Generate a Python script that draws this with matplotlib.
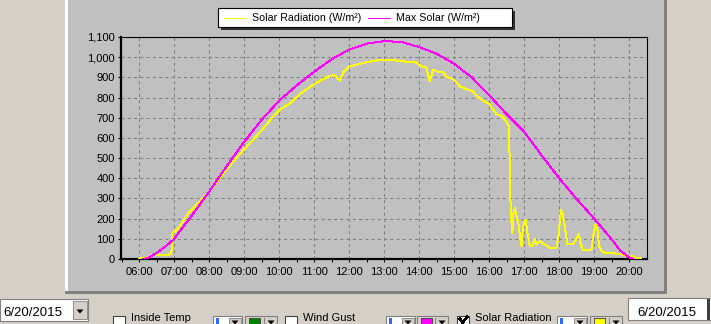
import matplotlib
matplotlib.use("Agg")
import matplotlib.pyplot as plt
from matplotlib.patches import Rectangle, Polygon
from matplotlib.lines import Line2D
from matplotlib.transforms import Affine2D
from matplotlib.ticker import FuncFormatter

plt.rcParams['font.family'] = ['Liberation Sans', 'DejaVu Sans']

# hours of day (decimal) and W/m2
solar_t = [6.0, 6.1, 6.25, 6.4, 6.6, 6.85, 6.92, 6.95, 7.1, 7.25, 7.4, 7.5, 7.75,
           8.0, 8.25, 8.5, 8.75, 9.0, 9.25, 9.5, 9.75, 10.0, 10.3, 10.59, 11.0,
           11.3, 11.54, 11.6, 11.73, 11.83, 12.0, 12.21, 12.5, 12.92, 13.16, 13.54,
           13.62, 13.9, 14.05, 14.2, 14.3, 14.4, 14.54, 14.69, 14.78, 14.97, 15.07,
           15.16, 15.35, 15.54, 15.64, 15.83, 16.0, 16.21, 16.35, 16.45, 16.57,
           16.59, 16.62, 16.66, 16.69, 16.73, 16.78, 16.83, 16.88, 16.92, 16.97,
           17.04, 17.1, 17.16, 17.24, 17.3, 17.35, 17.45, 17.54, 17.64, 17.73,
           17.92, 17.99, 18.05, 18.1, 18.16, 18.23, 18.4, 18.5, 18.56, 18.61,
           18.67, 18.92, 18.97, 19.04, 19.09, 19.14, 19.24, 19.35, 19.64, 19.78,
           19.92, 20.11, 20.2, 20.35]
solar_v = [2, 5, 8, 20, 22, 22, 27, 125, 150, 185, 228, 243, 290,
           334, 390, 444, 495, 544, 590, 639, 690, 738, 770, 817, 867,
           895, 913, 908, 883, 925, 955, 962, 975, 988, 985, 982,
           975, 975, 955, 950, 880, 938, 928, 925, 903, 892, 875,
           855, 842, 830, 808, 785, 768, 717, 709, 692, 659,
           394, 220, 129, 220, 253, 212, 179, 113, 63, 162,
           195, 121, 66, 66, 99, 71, 88, 76, 66, 55,
           55, 129, 245, 220, 162, 76, 76, 104, 126, 80,
           46, 46, 113, 171, 146, 63, 35, 30, 27, 22,
           17, 13, 5, 5]

maxsol_t = [6.1, 6.25, 6.5, 6.75, 7.0, 7.5, 8.0, 8.5, 9.0, 9.5, 10.0, 10.5, 11.0,
            11.5, 12.0, 12.5, 13.0, 13.5, 14.0, 14.5, 15.0, 15.5, 16.0, 16.5,
            17.0, 17.5, 18.0, 18.5, 19.0, 19.5, 19.75, 20.0, 20.12]
maxsol_v = [0, 5, 30, 62, 100, 215, 334, 460, 581, 690, 785, 860, 928,
            990, 1038, 1067, 1080, 1075, 1050, 1017, 967, 900, 812, 717,
            630, 513, 400, 297, 200, 97, 40, 8, 0]

hours = list(range(6, 21))
hour_labels = ["%02d:00" % h for h in hours]
yticks = list(range(0, 1101, 100))

solar_label = "Solar Radiation (W/m²)"
maxsol_label = "Max Solar (W/m²)"
date_text = "6/20/2015"

W, H = 711, 324
bg = '#D4D0C8'
fig = plt.figure(figsize=(W / 100, H / 100), dpi=100, facecolor=bg)
px = Affine2D().scale(1 / W, -1 / H).translate(0, 1) + fig.transFigure


def rect(x0, y0, x1, y1, fc, ec='none', lw=0, z=1):
    fig.add_artist(Rectangle((x0, y0), x1 - x0, y1 - y0, transform=px,
                             fc=fc, ec=ec, lw=lw, zorder=z))


def seg(xs, ys, c, lw=0.72, z=2):
    fig.add_artist(Line2D(xs, ys, transform=px, color=c, lw=lw, zorder=z,
                          antialiased=False))


def arrow(cx, cy):
    fig.add_artist(Polygon([(cx - 3.5, cy - 2), (cx + 3.5, cy - 2), (cx, cy + 2)],
                           transform=px, fc='black', ec='none', zorder=4))


# chart panel
rect(66, 0, 664, 292, '#C0C0C0', z=-2)
seg([65.5, 65.5], [0, 292], 'white', lw=1)
seg([65.5, 664.5], [291.5, 291.5], '#808080', lw=1)
seg([664.5, 664.5], [0, 292], '#808080', lw=1)

ax = fig.add_axes([121 / W, 65 / H, 525.7 / W, 222 / H])
ax.set_facecolor('#C0C0C0')
ax.plot(solar_t, solar_v, color='#FFFF00', lw=0.72, antialiased=False, zorder=3)
ax.plot(maxsol_t, maxsol_v, color='#FF00FF', lw=0.72, antialiased=False, zorder=4)

ax.set_xlim(5.48, 20.5)
ax.set_ylim(0, 1100)
ax.set_xticks(hours)
ax.set_xticklabels(hour_labels)
ax.set_xticks([h + 0.5 for h in range(5, 20)], minor=True)
ax.set_yticks(yticks)
ax.yaxis.set_major_formatter(FuncFormatter(lambda v, p: "{:,.0f}".format(v)))
ax.tick_params(which='both', direction='out', length=2.5, width=0.75,
               labelsize=8, colors='black')
ax.tick_params(axis='x', pad=3.5)
ax.tick_params(axis='y', pad=2)
ax.grid(True, which='major', color='#808080', linestyle=(0, (3, 3)), lw=0.75)
ax.set_axisbelow(True)
for s in ['left', 'bottom']:
    ax.spines[s].set_linewidth(1.6)
for s in ['top', 'right']:
    ax.spines[s].set_linewidth(0.8)

# legend box with shadow
rect(221, 11, 515, 30, '#303030', z=3)
rect(218, 8, 512, 27, 'white', ec='black', lw=0.8, z=3)
seg([224, 246], [17.5, 17.5], '#FFFF00', z=4)
seg([368, 390], [17.5, 17.5], '#FF00FF', z=4)
fig.text(252.5 / W, 1 - 21 / H, solar_label, fontsize=7.7, va='baseline', zorder=5)
fig.text(396 / W, 1 - 21 / H, maxsol_label, fontsize=7.7, va='baseline', zorder=5)

# controls under the chart
# left date picker
rect(0, 299, 88, 321, 'white', ec='#808080', lw=0.8)
rect(73, 301, 87, 319, bg, ec='#808080', lw=0.6, z=2)
arrow(80, 311.5)
fig.text(3 / W, 1 - 315.7 / H, date_text, fontsize=9.5, va='baseline', zorder=5)
# right date picker
rect(628, 298, 715, 320, 'white', ec='#808080', lw=0.8)
seg([708, 708], [300, 318], '#404040', lw=0.8)
fig.text(637 / W, 1 - 315.7 / H, date_text, fontsize=9.5, va='baseline', zorder=5)

# check boxes
checks = [(113, "Inside Temp", False), (285, "Wind Gust", False),
          (457, "Solar Radiation", True)]
for x0, lab, on in checks:
    rect(x0, 316, x0 + 12, 330, 'white', ec='#404040', lw=0.8)
    fig.text((x0 + 18) / W, 1 - 321 / H, lab, fontsize=8, va='baseline', zorder=5)
    if on:
        seg([x0 + 3, x0 + 5.5, x0 + 10], [319, 322.5, 317], 'black', lw=1.3, z=5)

# line-style combos and colour combos
combos = [(213, 242, 245, 277, '#008000'), (386, 415, 417, 448, '#FF00FF'),
          (557, 587, 590, 622, '#FFFF00')]
for a0, a1, b0, b1, col in combos:
    rect(a0, 316, a1, 330, 'white', ec='#808080', lw=0.8)
    rect(a1 - 13, 318, a1 - 1, 330, bg, ec='#808080', lw=0.6, z=2)
    arrow(a1 - 7, 322.5)
    seg([a0 + 4, a0 + 4], [319, 324], '#3366FF', lw=0.8)
    rect(b0, 316, b1, 330, bg, ec='#808080', lw=0.8)
    rect(b0 + 4, 318, b0 + 15, 330, col, ec='#404040', lw=0.6, z=2)
    seg([b1 - 13, b1 - 13], [318, 330], '#808080', lw=0.6)
    arrow(b1 - 6, 322.5)

fig.savefig("out.png", dpi=100, facecolor=bg)
